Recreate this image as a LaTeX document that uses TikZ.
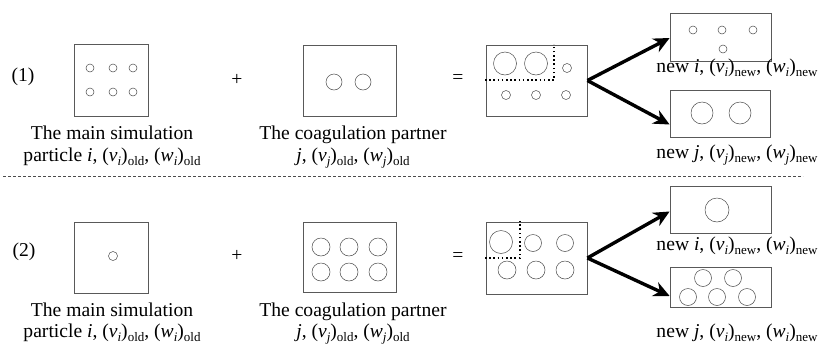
\documentclass[tikz,border=0pt]{standalone}
\usepackage{fontspec}
\setmainfont{Liberation Serif}
\usetikzlibrary{arrows.meta,calc}
\newcommand\lsub[1]{\raisebox{-4pt}{\fontsize{13}{13}\selectfont #1}}
\newcommand\ita[1]{\textit{#1}}
\begin{document}
\begin{tikzpicture}[x=1pt,y=-1pt,
  pbox/.style={draw=black!65, line width=0.8pt, inner sep=0pt},
  ptc/.style={draw=black!70, line width=0.5pt},
  lbl/.style={font=\fontsize{19.6}{23}\selectfont, inner sep=0pt},
  arr/.style={line width=3.4pt, -{Stealth[length=16pt,width=15pt]}},
  dots/.style={line width=1.6pt, dash pattern=on 1.6pt off 2.6pt},
  sep/.style={line width=0.6pt, draw=black!70, dash pattern=on 3pt off 2pt}]
\fill[white] (0,0) rectangle (822,346);
\useasboundingbox (0,0) rectangle (822,346);

% ---------- row 1 ----------
\node[lbl] (n1) at (23,77) {(1)};
\node[pbox, minimum width=74, minimum height=72] (a1) at (111,80) {};
\foreach \x in {90,113,133} \foreach \y in {68,92} \draw[ptc] (\x,\y) circle[radius=4];
\node[lbl] (p1) at (237,80) {+};
\node[pbox, minimum width=93, minimum height=71] (b1) at (349.5,80.5) {};
\draw[ptc] (334,82) circle[radius=8] (363,82) circle[radius=8];
\node[lbl] (e1) at (458,79) {=};
\node[pbox, minimum width=101, minimum height=71] (c1) at (536.5,80.5) {};
\draw[ptc] (505,63.5) circle[radius=11.5] (536,63.5) circle[radius=11.5];
\draw[ptc] (567,68) circle[radius=4.5];
\foreach \x in {506,536,566} \draw[ptc] (\x,95) circle[radius=4.5];
\draw[dots] (485,80) -- (554,80) -- (554,44);
\node[pbox, minimum width=101, minimum height=48] (ni1) at (720.5,37) {};
\foreach \x in {693,722,753} \draw[ptc] (\x,30) circle[radius=4];
\draw[ptc] (723,49) circle[radius=4];
\node[pbox, minimum width=100, minimum height=47] (nj1) at (720,113.5) {};
\draw[ptc] (702,113) circle[radius=11] (740,113) circle[radius=11];
\draw[arr] (c1.east) -- ($(ni1.west)+(0,1)$);
\draw[arr] (c1.east) -- ($(nj1.west)+(0,11)$);

\node[lbl, anchor=base] (ta1) at (112,139) {The main simulation};
\node[lbl, anchor=base] (tb1) at (112,161) {particle \ita{i}, (\ita{v}\lsub{\ita{i}})\lsub{old}, (\ita{w}\lsub{\ita{i}})\lsub{old}};
\node[lbl, anchor=base] (tc1) at (353,139) {The coagulation partner};
\node[lbl, anchor=base] (td1) at (353,161) {\ita{j}, (\ita{v}\lsub{\ita{j}})\lsub{old}, (\ita{w}\lsub{\ita{j}})\lsub{old}};
\node[lbl, anchor=base] (te1) at (737,72) {new \ita{i}, (\ita{v}\lsub{\ita{i}})\lsub{new}, (\ita{w}\lsub{\ita{i}})\lsub{new}};
\node[lbl, anchor=base] (tf1) at (737,158) {new \ita{j}, (\ita{v}\lsub{\ita{j}})\lsub{new}, (\ita{w}\lsub{\ita{j}})\lsub{new}};

% separator
\draw[sep] (3,176) -- (803,176);

% ---------- row 2 ----------
\node[lbl] (n2) at (24,252) {(2)};
\node[pbox, minimum width=74, minimum height=71] (a2) at (111,257.5) {};
\draw[ptc] (113,256) circle[radius=4.5];
\node[lbl] (p2) at (237,256) {+};
\node[pbox, minimum width=93, minimum height=70] (b2) at (349.5,257) {};
\foreach \x in {321,349,378} \foreach \y in {247,272} \draw[ptc] (\x,\y) circle[radius=9];
\node[lbl] (e2) at (458,257) {=};
\node[pbox, minimum width=101, minimum height=72] (c2) at (536.5,258) {};
\draw[ptc] (501,242) circle[radius=11.5];
\draw[ptc] (533,243) circle[radius=8.5] (565,243) circle[radius=8.5];
\foreach \x in {507,536,565} \draw[ptc] (\x,270) circle[radius=9];
\draw[dots] (485,258) -- (520,258) -- (520,221);
\node[pbox, minimum width=101, minimum height=47] (ni2) at (720.5,209.5) {};
\draw[ptc] (717,210) circle[radius=12];
\node[pbox, minimum width=101, minimum height=40] (nj2) at (720.5,287) {};
\foreach \x in {703,733} \draw[ptc] (\x,278) circle[radius=8.5];
\foreach \x in {688,717,747} \draw[ptc] (\x,297) circle[radius=8.5];
\draw[arr] (c2.east) -- ($(ni2.west)+(0,2)$);
\draw[arr] (c2.east) -- ($(nj2.west)+(0,9)$);

\node[lbl, anchor=base] (ta2) at (112,316) {The main simulation};
\node[lbl, anchor=base] (tb2) at (112,337) {particle \ita{i}, (\ita{v}\lsub{\ita{i}})\lsub{old}, (\ita{w}\lsub{\ita{i}})\lsub{old}};
\node[lbl, anchor=base] (tc2) at (353,316) {The coagulation partner};
\node[lbl, anchor=base] (td2) at (353,337) {\ita{j}, (\ita{v}\lsub{\ita{j}})\lsub{old}, (\ita{w}\lsub{\ita{j}})\lsub{old}};
\node[lbl, anchor=base] (te2) at (737,250) {new \ita{i}, (\ita{v}\lsub{\ita{i}})\lsub{new}, (\ita{w}\lsub{\ita{i}})\lsub{new}};
\node[lbl, anchor=base] (tf2) at (737,337) {new \ita{j}, (\ita{v}\lsub{\ita{i}})\lsub{new}, (\ita{w}\lsub{\ita{i}})\lsub{new}};
\end{tikzpicture}
\end{document}
